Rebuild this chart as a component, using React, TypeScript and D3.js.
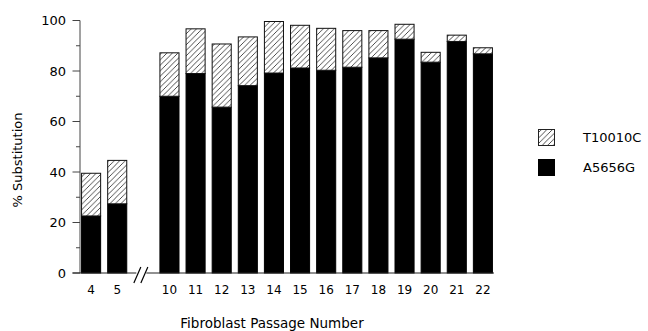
import * as d3 from 'd3';

// passage numbers (4 and 5, then a break, then 10..22)
const passages = ['4', '5', '10', '11', '12', '13', '14', '15', '16', '17', '18', '19', '20', '21', '22'];
// A5656G (black, bottom of stack), % substitution
const a5656g = [22.6, 27.4, 70.0, 79.0, 65.7, 74.2, 79.2, 81.2, 80.3, 81.5, 85.2, 92.6, 83.5, 91.7, 86.8];
// T10010C (hatched, stacked on top)
const t10010c = [16.9, 17.2, 17.2, 17.7, 25.0, 19.3, 20.4, 16.9, 16.6, 14.5, 10.8, 5.9, 3.9, 2.5, 2.4];
const yTicks = [0, 20, 40, 60, 80, 100];
const yMinor = [10, 30, 50, 70, 90];

const W = 648;
const H = 331;
const font = '"DejaVu Sans", Verdana, sans-serif';

export default function App() {
  // slot domain keeps an empty slot for the axis break
  const slots = ['4', '5', 'gap', ...passages.slice(2)];
  const x = d3.scaleBand<string>().domain(slots).range([80, 494]).paddingInner(0.27).paddingOuter(0.06);
  const y = d3.scaleLinear().domain([0, 100]).range([273, 20.5]);

  const rows = passages.map((p, i) => ({ passage: p, a: a5656g[i], t: t10010c[i] }));
  const stack = d3.stack<any>().keys(['a', 't'])(rows);

  const gapX = (x('gap') as number) + x.bandwidth() / 2;
  const y0 = y(0);

  return (
    <div style={{ position: 'absolute', left: 0, top: 0 }}>
      <svg width={W} height={H} style={{ display: 'block', background: '#fff' }}>
        <defs>
          <pattern id="hatch" patternUnits="userSpaceOnUse" width={5.5} height={5.5}>
            <rect width={5.5} height={5.5} fill="#fff" />
            <path d="M0,5.5 L5.5,0 M-1,1 L1,-1 M4.5,6.5 L6.5,4.5" stroke="#111" strokeWidth={0.75} />
          </pattern>
        </defs>

        {/* bars */}
        {stack[0].map((d, i) => (
          <rect key={'a' + i} x={x(passages[i])} y={y(d[1])} width={x.bandwidth()} height={y(d[0]) - y(d[1])}
            fill="#000" stroke="#000" strokeWidth={1} />
        ))}
        {stack[1].map((d, i) => (
          <rect key={'t' + i} x={x(passages[i])} y={y(d[1])} width={x.bandwidth()} height={y(d[0]) - y(d[1])}
            fill="url(#hatch)" stroke="#111" strokeWidth={1} />
        ))}

        {/* y axis */}
        <line x1={80} x2={80} y1={y(100)} y2={y0} stroke="#444" strokeWidth={1} />
        {yTicks.map(t => (
          <g key={t}>
            <line x1={72.5} x2={80} y1={y(t)} y2={y(t)} stroke="#444" strokeWidth={1} />
            <text x={66} y={y(t)} dy="0.36em" textAnchor="end" fontFamily={font} fontSize={13} fill="#000">{t}</text>
          </g>
        ))}
        {yMinor.map(t => (
          <line key={t} x1={76} x2={80} y1={y(t)} y2={y(t)} stroke="#444" strokeWidth={1} />
        ))}

        {/* x axis with break */}
        <line x1={72.5} x2={gapX - 7} y1={y0} y2={y0} stroke="#222" strokeWidth={1} />
        <line x1={gapX + 3} x2={494} y1={y0} y2={y0} stroke="#222" strokeWidth={1} />
        <line x1={gapX - 9.5} x2={gapX - 2.5} y1={y0 + 10} y2={y0 - 6} stroke="#000" strokeWidth={1.2} />
        <line x1={gapX - 2.5} x2={gapX + 4.5} y1={y0 + 10} y2={y0 - 6} stroke="#000" strokeWidth={1.2} />
        {passages.map(p => (
          <text key={p} x={(x(p) as number) + x.bandwidth() / 2} y={y0 + 17} dy="0.36em" textAnchor="middle"
            fontFamily={font} fontSize={12} fill="#000">{p}</text>
        ))}

        {/* axis titles */}
        <text x={272} y={323} dy="0.36em" textAnchor="middle" fontFamily={font} fontSize={13.5} fill="#000">
          Fibroblast Passage Number
        </text>
        <text transform="translate(17,160) rotate(-90)" dy="0.36em" textAnchor="middle" fontFamily={font} fontSize={13} fill="#000">
          % Substitution
        </text>

        {/* legend */}
        <rect x={538.5} y={129.5} width={16} height={16} fill="url(#hatch)" stroke="#222" strokeWidth={1} />
        <text x={583} y={137.5} dy="0.36em" fontFamily={font} fontSize={13} fill="#000">T10010C</text>
        <rect x={538.5} y={159.5} width={16} height={16} fill="#000" stroke="#000" strokeWidth={1} />
        <text x={583} y={167.5} dy="0.36em" fontFamily={font} fontSize={13} fill="#000">A5656G</text>
      </svg>
    </div>
  );
}
